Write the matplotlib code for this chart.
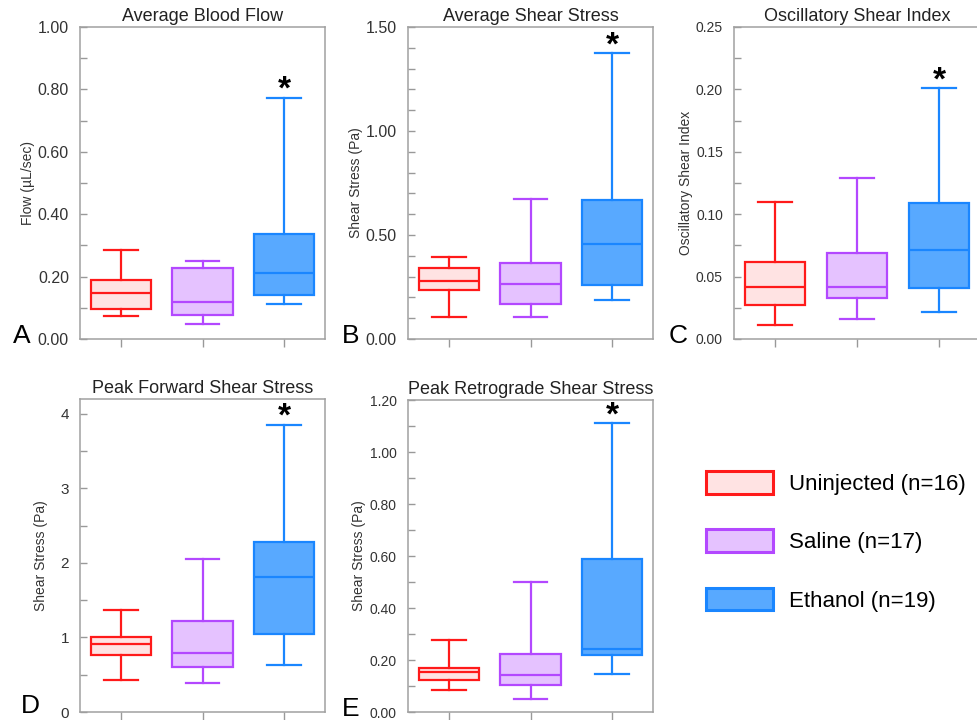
import numpy as np
import matplotlib

matplotlib.use("Agg")
import matplotlib.pyplot as plt
from matplotlib.patches import Patch
from matplotlib.ticker import MultipleLocator, FormatStrFormatter

plt.rcParams["font.family"] = ["Liberation Sans", "DejaVu Sans"]

# ---------------------------------------------------------------------------
# Data: [whisker low, Q1, median, Q3, whisker high]
# ---------------------------------------------------------------------------
groups = ["Uninjected (n=16)", "Saline (n=17)", "Ethanol (n=19)"]

flow_uninj = [0.074, 0.095, 0.146, 0.189, 0.285]
flow_saline = [0.048, 0.076, 0.120, 0.229, 0.250]
flow_ethanol = [0.111, 0.141, 0.210, 0.338, 0.774]

wss_uninj = [0.106, 0.235, 0.279, 0.343, 0.395]
wss_saline = [0.107, 0.168, 0.264, 0.365, 0.672]
wss_ethanol = [0.187, 0.259, 0.459, 0.667, 1.375]

osi_uninj = [0.0115, 0.0272, 0.0416, 0.0616, 0.110]
osi_saline = [0.0163, 0.0328, 0.0416, 0.0686, 0.129]
osi_ethanol = [0.0213, 0.0406, 0.0712, 0.109, 0.201]

pfwd_uninj = [0.426, 0.767, 0.910, 1.009, 1.368]
pfwd_saline = [0.395, 0.605, 0.798, 1.220, 2.054]
pfwd_ethanol = [0.637, 1.045, 1.816, 2.278, 3.857]

pret_uninj = [0.083, 0.125, 0.154, 0.171, 0.276]
pret_saline = [0.051, 0.103, 0.144, 0.225, 0.500]
pret_ethanol = [0.145, 0.218, 0.241, 0.590, 1.110]

titles = ["Average Blood Flow", "Average Shear Stress", "Oscillatory Shear Index",
          "Peak Forward Shear Stress", "Peak Retrograde Shear Stress"]
ylabels = ["Flow (µL/sec)", "Shear Stress (Pa)", "Oscillatory Shear Index",
           "Shear Stress (Pa)", "Shear Stress (Pa)"]
letters = ["A", "B", "C", "D", "E"]

edge_colors = ["#ff1a1a", "#b348ff", "#1a86ff"]
fill_colors = ["#ffe3e3", "#e5c2ff", "#58a9ff"]

W, H = 977, 720


def rect(left, top, right, bottom):
    return [left / W, 1 - bottom / H, (right - left) / W, (bottom - top) / H]


panels = [
    dict(data=[flow_uninj, flow_saline, flow_ethanol], pos=rect(80, 27, 325, 339),
         ylim=1.0, major=0.2, minor=0.1, fmt="%.2f", tsize=11.5, ylab_x=-0.183,
         letter_xy=(13, 343)),
    dict(data=[wss_uninj, wss_saline, wss_ethanol], pos=rect(408, 27, 653, 339),
         ylim=1.5, major=0.5, minor=0.1, fmt="%.2f", tsize=11.5, ylab_x=-0.183,
         letter_xy=(342, 343)),
    dict(data=[osi_uninj, osi_saline, osi_ethanol], pos=rect(734, 27, 980, 339),
         ylim=0.25, major=0.05, minor=0.025, fmt="%.2f", tsize=10, ylab_x=-0.165,
         letter_xy=(669, 343)),
    dict(data=[pfwd_uninj, pfwd_saline, pfwd_ethanol], pos=rect(80, 399, 325, 712),
         ylim=4.2, major=1.0, minor=0.5, fmt="%d", tsize=11, ylab_x=-0.13,
         letter_xy=(21, 713)),
    dict(data=[pret_uninj, pret_saline, pret_ethanol], pos=rect(408, 400, 653, 712),
         ylim=1.2, major=0.2, minor=0.1, fmt="%.2f", tsize=10, ylab_x=-0.17,
         letter_xy=(342, 716)),
]

fig = plt.figure(figsize=(W / 100, H / 100), dpi=100)

for i, p in enumerate(panels):
    ax = fig.add_axes(p["pos"])
    for j, vals in enumerate(p["data"]):
        stats = [dict(whislo=vals[0], q1=vals[1], med=vals[2], q3=vals[3],
                      whishi=vals[4], fliers=[])]
        ec = edge_colors[j]
        line = dict(color=ec, linewidth=1.6)
        ax.bxp(stats, positions=[j + 1], widths=0.74, capwidths=0.41,
               patch_artist=True, showfliers=False,
               boxprops=dict(facecolor=fill_colors[j], edgecolor=ec, linewidth=1.6),
               medianprops=line, whiskerprops=line, capprops=line)
    # significance marker above the ethanol whisker
    ax.annotate("*", xy=(3, p["data"][2][4]), xytext=(0, -6),
                textcoords="offset points", ha="center", va="bottom",
                fontsize=24, fontweight="bold", color="black")

    ax.set_xlim(0.5, 3.5)
    ax.set_ylim(0, p["ylim"])
    ax.set_xticks([1, 2, 3])
    ax.set_xticklabels([])
    ax.yaxis.set_major_locator(MultipleLocator(p["major"]))
    ax.yaxis.set_minor_locator(MultipleLocator(p["minor"]))
    ax.yaxis.set_major_formatter(FormatStrFormatter(p["fmt"]))
    ax.tick_params(axis="y", which="both", direction="in", length=5, width=1,
                   color="#999999", labelsize=p["tsize"], labelcolor="#333333", pad=8)
    ax.tick_params(axis="x", direction="out", length=6, width=1, color="#999999")
    for s in ax.spines.values():
        s.set_color("#a0a0a0")
        s.set_linewidth(1.1)
    ax.set_title(titles[i], fontsize=13, color="#222222", pad=4)
    ax.set_ylabel(ylabels[i], fontsize=10, color="#333333")
    ax.yaxis.set_label_coords(p["ylab_x"], 0.5)
    lx, ly = p["letter_xy"]
    fig.text(lx / W, 1 - ly / H, letters[i], fontsize=19, va="baseline", ha="left",
             color="black")

handles = [Patch(facecolor=fill_colors[k], edgecolor=edge_colors[k], linewidth=2.2,
                 label=groups[k]) for k in range(3)]
fig.legend(handles=handles, loc="upper left", bbox_to_anchor=(706 / W, 1 - 471 / H),
           frameon=False, fontsize=16, handlelength=3.0, handleheight=1.2,
           handletextpad=0.75, labelspacing=1.55, borderpad=0, borderaxespad=0)

fig.savefig("out.png", dpi=100)
